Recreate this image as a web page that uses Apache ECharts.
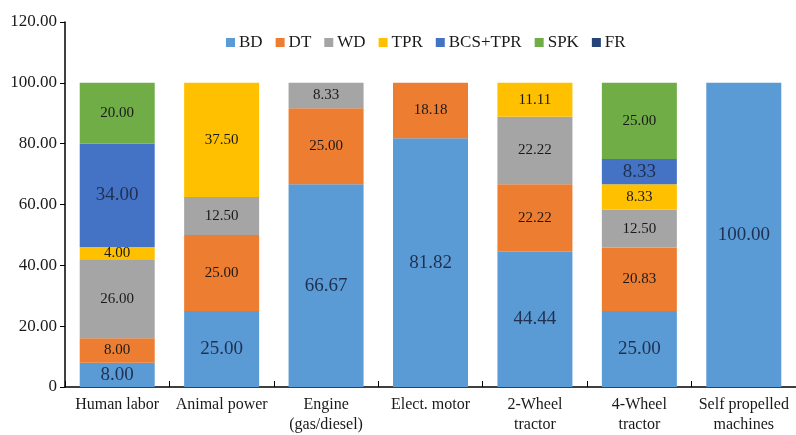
<!DOCTYPE html>
<html>
<head>
<meta charset="utf-8">
<script src="https://cdn.jsdelivr.net/npm/echarts@6/dist/echarts.min.js"></script>
<style>html,body{margin:0;padding:0;background:#fff;}#c{width:796px;height:435px;}</style>
</head>
<body>
<div id="c"></div>
<script>
const categories = ['Human labor', 'Animal power', 'Engine\n(gas/diesel)', 'Elect. motor', '2-Wheel\ntractor', '4-Wheel\ntractor', 'Self propelled\nmachines'];
const BD = [8.00, 25.00, 66.67, 81.82, 44.44, 25.00, 100.00];
const DT = [8.00, 25.00, 25.00, 18.18, 22.22, 20.83, 0];
const WD = [26.00, 12.50, 8.33, 0, 22.22, 12.50, 0];
const TPR = [4.00, 37.50, 0, 0, 11.11, 8.33, 0];
const BCS_TPR = [34.00, 0, 0, 0, 0, 8.33, 0];
const SPK = [20.00, 0, 0, 0, 0, 25.00, 0];
const FR = [0, 0, 0, 0, 0, 0, 0];
const yTicks = [0, 20, 40, 60, 80, 100, 120];

const FONT = '"Liberation Serif", "Times New Roman", serif';
const seriesDefs = [
  {name: 'BD', data: BD, color: '#5B9BD5', size: 19, lc: '#1F3050'},
  {name: 'DT', data: DT, color: '#ED7D31', size: 15, lc: '#1a1a1a'},
  {name: 'WD', data: WD, color: '#A5A5A5', size: 15, lc: '#1a1a1a'},
  {name: 'TPR', data: TPR, color: '#FFC000', size: 15, lc: '#1a1a1a'},
  {name: 'BCS+TPR', data: BCS_TPR, color: '#4472C4', size: 19, lc: '#1F3050'},
  {name: 'SPK', data: SPK, color: '#70AD47', size: 15, lc: '#1a1a1a'},
  {name: 'FR', data: FR, color: '#264478', size: 15, lc: '#1a1a1a'}
];

const chart = echarts.init(document.getElementById('c'), null, {renderer: 'canvas'});
chart.setOption({
  backgroundColor: '#fff',
  animation: false,
  textStyle: {fontFamily: FONT},
  legend: {
    left: 221, top: 29,
    itemWidth: 9, itemHeight: 9, itemGap: 13,
    icon: 'rect',
    textStyle: {fontFamily: FONT, fontSize: 17, color: '#1a1a1a', padding: [0, 0, 0, -1]},
    data: seriesDefs.map(s => s.name)
  },
  grid: {left: 65, top: 22, bottom: 45, width: 735, containLabel: false},
  xAxis: {
    type: 'category',
    data: categories,
    axisLine: {lineStyle: {color: '#000', width: 1.5}},
    axisTick: {show: true, inside: true, length: 6, alignWithLabel: false, lineStyle: {color: '#000'}},
    axisLabel: {fontFamily: FONT, fontSize: 16, color: '#1a1a1a', margin: 8, lineHeight: 20, interval: 0}
  },
  yAxis: {
    type: 'value',
    min: 0, max: 120, interval: 20,
    splitLine: {show: false},
    axisLine: {show: true, lineStyle: {color: '#000', width: 1.5}},
    axisTick: {show: true, length: 5, lineStyle: {color: '#000'}},
    axisLabel: {
      fontFamily: FONT, fontSize: 17, color: '#1a1a1a', margin: 8,
      formatter: v => (yTicks.indexOf(v) >= 0 ? (v === 0 ? '0' : v.toFixed(2)) : '')
    }
  },
  series: seriesDefs.map(s => ({
    name: s.name,
    type: 'bar',
    stack: 'total',
    barWidth: 75,
    itemStyle: {color: s.color},
    label: {
      show: true, position: 'inside',
      fontFamily: FONT, fontSize: s.size, color: s.lc,
      formatter: p => (p.value > 0 ? p.value.toFixed(2) : '')
    },
    data: s.data.map(v => (v > 0 ? v : null))
  }))
});
</script>
</body>
</html>
